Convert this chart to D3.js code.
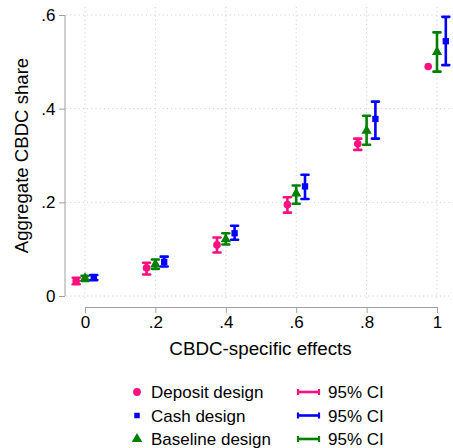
<!DOCTYPE html>
<html>
<head>
<meta charset="utf-8">
<script src="https://cdn.jsdelivr.net/npm/d3@7"></script>
<style>
  body { margin: 0; background: #fff; }
  svg { font-family: "Liberation Sans", Arial, sans-serif; }
  .grid line { stroke: #d0d0d0; stroke-dasharray: 1.2 3; }
  .axis path, .axis line { stroke: #a0a0a0; }
</style>
</head>
<body>
<svg width="453" height="448"></svg>
<script>
// x positions (CBDC-specific effects)
const effects = [0, 0.2, 0.4, 0.6, 0.8, 1];

// Deposit design
const depositMean = [0.032, 0.060, 0.109, 0.195, 0.325, 0.490];
const depositLo   = [0.025, 0.046, 0.093, 0.178, 0.312, 0.490];
const depositHi   = [0.039, 0.071, 0.125, 0.211, 0.336, 0.490];

// Baseline design
const baseMean = [0.038, 0.068, 0.121, 0.219, 0.353, 0.521];
const baseLo   = [0.032, 0.058, 0.110, 0.197, 0.323, 0.479];
const baseHi   = [0.043, 0.078, 0.134, 0.236, 0.385, 0.563];

// Cash design
const cashMean = [0.040, 0.073, 0.134, 0.234, 0.378, 0.544];
const cashLo   = [0.034, 0.063, 0.120, 0.207, 0.336, 0.493];
const cashHi   = [0.045, 0.084, 0.150, 0.259, 0.415, 0.596];

const xTicks = [0, 0.2, 0.4, 0.6, 0.8, 1];
const xTickLabels = ['0', '.2', '.4', '.6', '.8', '1'];
const yTicks = [0, 0.2, 0.4, 0.6];
const yTickLabels = ['0', '.2', '.4', '.6'];

const pink = '#ff1080', blue = '#0000ff', green = '#008000';

const series = [
  { name: 'Deposit design', mean: depositMean, lo: depositLo, hi: depositHi, color: pink, shape: d3.symbolCircle, size: 46, off: -0.025 },
  { name: 'Baseline design', mean: baseMean, lo: baseLo, hi: baseHi, color: green, shape: d3.symbolTriangle, size: 46, off: 0 },
  { name: 'Cash design', mean: cashMean, lo: cashLo, hi: cashHi, color: blue, shape: d3.symbolSquare, size: 40, off: 0.025 }
];

const svg = d3.select('svg');

const x = d3.scaleLinear().domain([0, 1]).range([85, 437]);
const y = d3.scaleLinear().domain([0, 0.6]).range([296, 15]);

// grid
svg.append('g').attr('class', 'grid')
  .selectAll('line').data(yTicks).enter().append('line')
  .attr('x1', 66).attr('x2', 453)
  .attr('y1', d => y(d)).attr('y2', d => y(d));
svg.append('g').attr('class', 'grid')
  .selectAll('line').data(xTicks).enter().append('line')
  .attr('x1', d => x(d)).attr('x2', d => x(d))
  .attr('y1', 7).attr('y2', 301);

// axes
const yAxis = svg.append('g').attr('class', 'axis')
  .attr('transform', 'translate(65,0)')
  .call(d3.axisLeft(y).tickValues(yTicks).tickFormat((d, i) => yTickLabels[i]).tickSize(6).tickSizeOuter(0));
yAxis.select('.domain').attr('d', `M0,${y(0.6)}V${y(0)}`);
yAxis.selectAll('text').attr('font-size', 17).attr('fill', '#000').attr('x', -9.5);

const xAxis = svg.append('g').attr('class', 'axis')
  .attr('transform', 'translate(0,307)')
  .call(d3.axisBottom(x).tickValues(xTicks).tickFormat((d, i) => xTickLabels[i]).tickSize(6).tickSizeOuter(0));
xAxis.selectAll('text').attr('font-size', 17).attr('fill', '#000').attr('y', 9);

svg.selectAll('.axis').attr('font-family', null);

// axis titles
svg.append('text')
  .attr('x', x(0.5) - 0.5).attr('y', 355)
  .attr('text-anchor', 'middle').attr('font-size', 18.8)
  .text('CBDC-specific effects');
svg.append('text')
  .attr('transform', `translate(28,${(y(0) + y(0.6)) / 2}) rotate(-90)`)
  .attr('text-anchor', 'middle').attr('font-size', 18.6)
  .text('Aggregate CBDC share');

// error bars and markers
const capW = 3.5;
series.forEach(s => {
  const g = svg.append('g');
  const rows = effects.map((e, i) => ({ e: e + s.off, m: s.mean[i], lo: s.lo[i], hi: s.hi[i] }));
  const bars = rows.filter(r => r.hi > r.lo);
  g.selectAll('line.ci').data(bars).enter().append('line')
    .attr('x1', r => x(r.e)).attr('x2', r => x(r.e))
    .attr('y1', r => y(r.lo)).attr('y2', r => y(r.hi))
    .attr('stroke', s.color).attr('stroke-width', 2.6);
  ['lo', 'hi'].forEach(k => {
    g.selectAll('line.cap' + k).data(bars).enter().append('line')
      .attr('x1', r => x(r.e) - capW).attr('x2', r => x(r.e) + capW)
      .attr('y1', r => y(r[k])).attr('y2', r => y(r[k]))
      .attr('stroke', s.color).attr('stroke-width', 2.6).attr('stroke-linecap', 'round');
  });
  g.selectAll('path.pt').data(rows).enter().append('path')
    .attr('transform', r => `translate(${x(r.e)},${y(r.m)})`)
    .attr('d', d3.symbol().type(s.shape).size(s.size))
    .attr('fill', s.color);
});

// legend
const legendOrder = [series[0], series[2], series[1]];
const leg = svg.append('g');
legendOrder.forEach((s, i) => {
  const ly = 392 + i * 23.5;
  leg.append('path')
    .attr('transform', `translate(137,${ly})`)
    .attr('d', d3.symbol().type(s.shape).size(s.shape === d3.symbolSquare ? 30 : 48))
    .attr('fill', s.color);
  leg.append('text').attr('x', 151).attr('y', ly + 6).attr('font-size', 17).text(s.name);
  leg.append('line').attr('x1', 298).attr('x2', 319).attr('y1', ly).attr('y2', ly)
    .attr('stroke', s.color).attr('stroke-width', 2.6);
  [298, 319].forEach(cx => leg.append('line').attr('x1', cx).attr('x2', cx)
    .attr('y1', ly - 3).attr('y2', ly + 3).attr('stroke', s.color).attr('stroke-width', 2.2));
  leg.append('text').attr('x', 328).attr('y', ly + 6).attr('font-size', 17).text('95% CI');
});
</script>
</body>
</html>
